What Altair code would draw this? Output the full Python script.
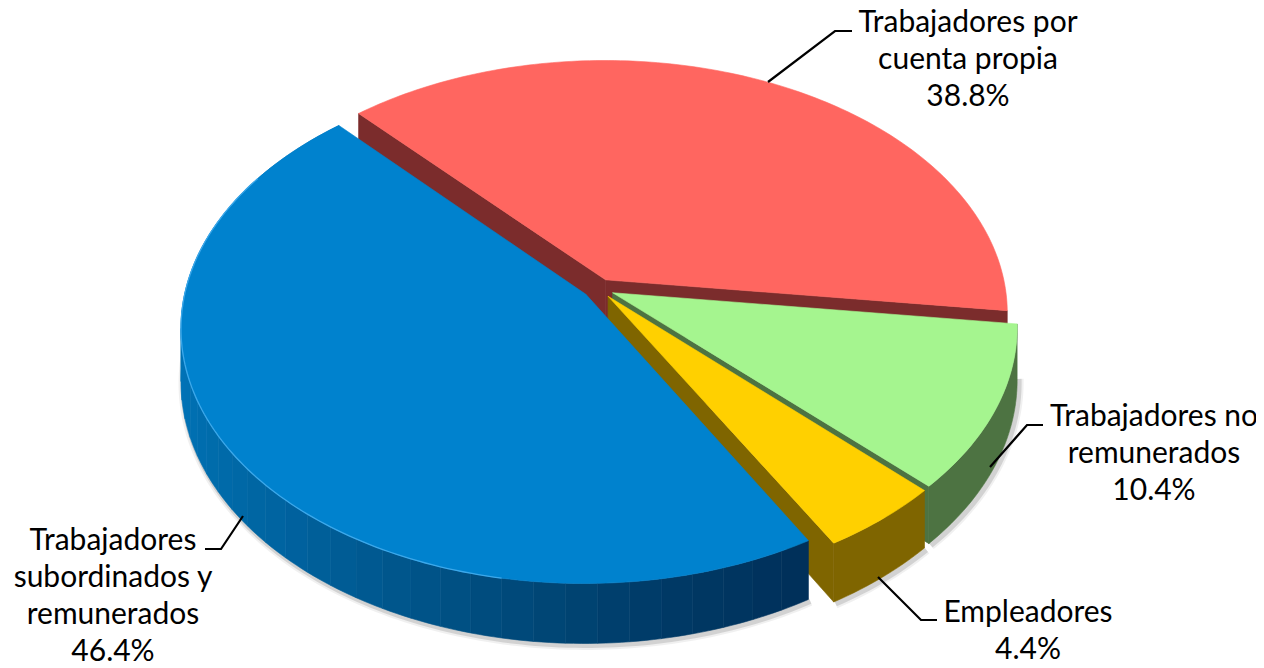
import math
import altair as alt

# ---- chart values ----
names = ["Trabajadores subordinados y remunerados", "Trabajadores por cuenta propia",
         "Trabajadores no remunerados", "Empleadores"]
shares = [46.4, 38.8, 10.4, 4.4]
label_lines = ["Trabajadores\nsubordinados y\nremunerados\n46.4%",
               "Trabajadores por\ncuenta propia\n38.8%",
               "Trabajadores no\nremunerados\n10.4%",
               "Empleadores\n4.4%"]
top_colors = ["#0082CE", "#FF6660", "#A5F58F", "#FFD000"]
wall_colors = ["#005C96", "#7B2C2C", "#4D7342", "#7F6500"]

# ---- view geometry ----
FIRST_ANGLE = 150.3
CX, CY, A, B, K, DEPTH, EXPLODE = 598.5, 288.5, 400.0, 250.0, 0.13, 52.0, 0.039
BLUE_RAMP = ["#00305A", "#003A66", "#004878", "#00568C", "#00629F", "#006BAA", "#0072B6"]
RIM = "#3CA8EA"
BAND = 4


def proj(x, y, z=0.0):
    s = 1.0 / (1.0 + K * y)
    return [CX + A * x * s, CY - B * y * s + z * DEPTH * s]


def lerp_hex(t):
    p = t * (len(BLUE_RAMP) - 1)
    i = min(int(p), len(BLUE_RAMP) - 2)
    f = p - i
    a = [int(BLUE_RAMP[i][j:j + 2], 16) for j in (1, 3, 5)]
    b = [int(BLUE_RAMP[i + 1][j:j + 2], 16) for j in (1, 3, 5)]
    return "#%02x%02x%02x" % tuple(round(u + (v - u) * f) for u, v in zip(a, b))


def poly(points, color):
    return {"type": "Feature", "properties": {"fill": color},
            "geometry": {"type": "Polygon", "coordinates": [points + [points[0]]]}}


def line(points, color, width, opacity=1.0):
    return {"type": "Feature", "properties": {"stroke": color, "w": width, "o": opacity},
            "geometry": {"type": "LineString", "coordinates": points}}


# slice angle ranges, from the shares
spans = []
cum = FIRST_ANGLE
for v in shares:
    spans.append((cum, cum + v * 3.6))
    cum += v * 3.6


def slice_geo(i):
    a0, a1 = spans[i]
    m = math.radians((a0 + a1) / 2)
    ox, oy = EXPLODE * math.sin(m), EXPLODE * math.cos(m)
    n = max(8, int(a1 - a0))
    angs = [a0 + (a1 - a0) * j / n for j in range(n + 1)]
    pt = lambda a: (ox + math.sin(math.radians(a)), oy + math.cos(math.radians(a)))
    return ox, oy, angs, pt


tops = []
shadow = []
rims = []
for i in [1, 2, 3, 0]:
    ox, oy, angs, pt = slice_geo(i)
    a0, a1 = spans[i]
    # radial faces
    if i != 0:
        for a in ([a0, a1] if i == 1 else [a1]):
            x, y = pt(a)
            tops.append(poly([proj(ox, oy), proj(x, y), proj(x, y, 1), proj(ox, oy, 1)], wall_colors[i]))
    # outer wall
    if i == 0:
        last = len(angs) - 1
        for j in range(0, last, BAND):
            part = angs[j:j + BAND + 1]
            col = lerp_hex(min(1.0, j / (0.62 * last)))
            tops.append(poly([proj(*pt(a)) for a in part] + [proj(*pt(a), 1) for a in reversed(part)], col))
    elif i != 1:
        tops.append(poly([proj(*pt(a)) for a in angs] + [proj(*pt(a), 1) for a in reversed(angs)], wall_colors[i]))
    tops.append(poly([proj(ox, oy)] + [proj(*pt(a)) for a in angs], top_colors[i]))
    if i != 1:
        sh = [[u + 2, v + 2] for u, v in (proj(*pt(a), 1) for a in angs)]
        shadow.append(line(sh, "#000000", 9, 0.06))
        shadow.append(line(sh, "#000000", 5, 0.12))
    if i == 0:
        rims.append(line([proj(*pt(a)) for a in angs if 190 < a < 300], RIM, 1.3))

# leader lines
leaders = [
    line([[768, 82], [835, 31], [852, 31]], "#000000", 2.2),
    line([[990, 467], [1027, 425], [1043, 425]], "#000000", 2.2),
    line([[878, 577], [921, 620], [937, 620]], "#000000", 2.2),
    line([[243, 516], [221, 549], [205, 549]], "#000000", 2.2),
]

label_x = [113, 968, 1154, 1028]
label_y = [541, 23, 417, 613]

PROJ = {"type": "identity", "scale": 1, "translate": [-8, -8]}


def fc(features):
    return alt.InlineData(values={"type": "FeatureCollection", "features": features},
                          format=alt.DataFormat(property="features", type="json"))


def stroke_layer(features):
    return alt.Chart(fc(features)).mark_geoshape(filled=False, fill=None).encode(
        stroke=alt.Stroke("properties.stroke:N", scale=None),
        strokeWidth=alt.StrokeWidth("properties.w:Q", scale=None),
        opacity=alt.Opacity("properties.o:Q", scale=None),
    ).project(**PROJ)


shadow_layer = stroke_layer(shadow)
solid_layer = alt.Chart(fc(tops)).mark_geoshape(strokeWidth=0.6).encode(
    fill=alt.Fill("properties.fill:N", scale=None),
    stroke=alt.Stroke("properties.fill:N", scale=None),
).project(**PROJ)
line_layer = stroke_layer(rims + leaders)

labels = [{"name": n, "text": t, "lon": x, "lat": y}
          for n, t, x, y in zip(names, label_lines, label_x, label_y)]
text_layer = alt.Chart(alt.Data(values=labels)).mark_text(
    font="Lato", fontSize=30, lineHeight=37, lineBreak="\n", align="center",
    baseline="middle", color="#000000",
).encode(longitude="lon:Q", latitude="lat:Q", text="text:N").project(**PROJ)

chart = alt.layer(shadow_layer, solid_layer, line_layer, text_layer).properties(
    width=1248, height=660, padding=0,
    autosize=alt.AutoSizeParams(type="none"),
    background="#FFFFFF",
).configure_view(stroke=None)

chart.save("out.html", embed_options={"renderer": "svg", "actions": False})
